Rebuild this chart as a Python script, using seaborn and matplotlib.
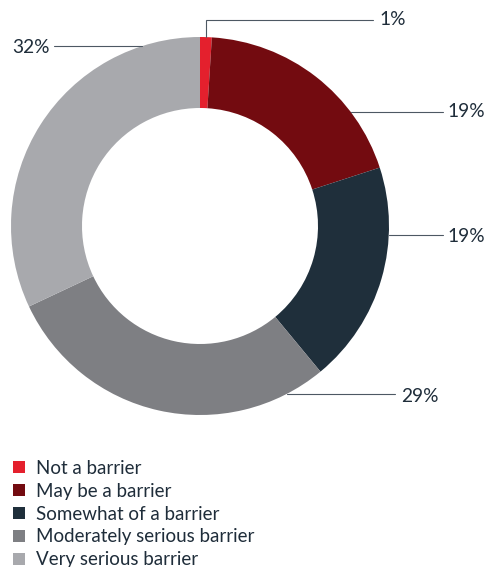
import numpy as np
import matplotlib
matplotlib.use("Agg")
import matplotlib.pyplot as plt
import seaborn as sns

categories = ["Not a barrier", "May be a barrier", "Somewhat of a barrier",
              "Moderately serious barrier", "Very serious barrier"]
values = [1, 19, 19, 29, 32]
pct_labels = ["1%", "19%", "19%", "29%", "32%"]
colors = ["#e4202d", "#730b10", "#1f2f3b", "#7e7f83", "#a8a9ad"]

sns.set_theme(style="white")
plt.rcParams['font.family'] = ['Lato', 'DejaVu Sans']

W, H = 486, 567
TXT = "#1f2d3a"
LINE = "#4d5863"
fig = plt.figure(figsize=(W / 100, H / 100), dpi=100)
ax = fig.add_axes([0, 0, 1, 1])

cx, cy, R, r_in = 200, 226, 189, 118


def Y(y):
    return H - y


wedges, _ = ax.pie(values, colors=sns.color_palette(colors), startangle=90,
                   counterclock=False, center=(cx, Y(cy)), radius=R,
                   wedgeprops=dict(width=R - r_in, linewidth=0, edgecolor='none'))
ax.set_xlim(0, W)
ax.set_ylim(0, H)
ax.set_aspect('equal')
ax.axis('off')

# label layout (pixel positions): (line_y, line_end_x, text_x, baseline_y, side)
layout = [
    (20, 373, 379, 25, 'top'),
    (112, 443, 447, 117, 'right'),
    (235, 443, 447, 242, 'right'),
    (394, 395, 401, 402, 'right'),
    (46, 54, 12, 53, 'left'),
]

for w, lab, (ly, lx, tx, by, side) in zip(wedges, pct_labels, layout):
    if side == 'top':
        ang = np.deg2rad((w.theta1 + w.theta2) / 2)
        ax0 = cx + R * np.cos(ang)
        ay0 = Y(cy) + R * np.sin(ang)
        ax.plot([ax0, ax0, lx], [ay0, Y(ly), Y(ly)], color=LINE, lw=0.8,
                solid_joinstyle='miter')
    else:
        dy = ly - cy
        dx = np.sqrt(R ** 2 - dy ** 2)
        x0 = cx + dx if side == 'right' else cx - dx
        ax.plot([x0, lx], [Y(ly), Y(ly)], color=LINE, lw=0.8)
    ax.text(tx, Y(by), lab, fontsize=13.8, color=TXT, ha='left', va='baseline')

leg = fig.legend(wedges, categories, loc='upper left',
                 bbox_to_anchor=(13 / W, 1 - 460 / H), frameon=False,
                 fontsize=13.5, handlelength=0.62, handleheight=0.62,
                 handletextpad=0.58, labelspacing=0.31, borderpad=0,
                 borderaxespad=0)
for t in leg.get_texts():
    t.set_color(TXT)

fig.savefig("out.png", dpi=100)
